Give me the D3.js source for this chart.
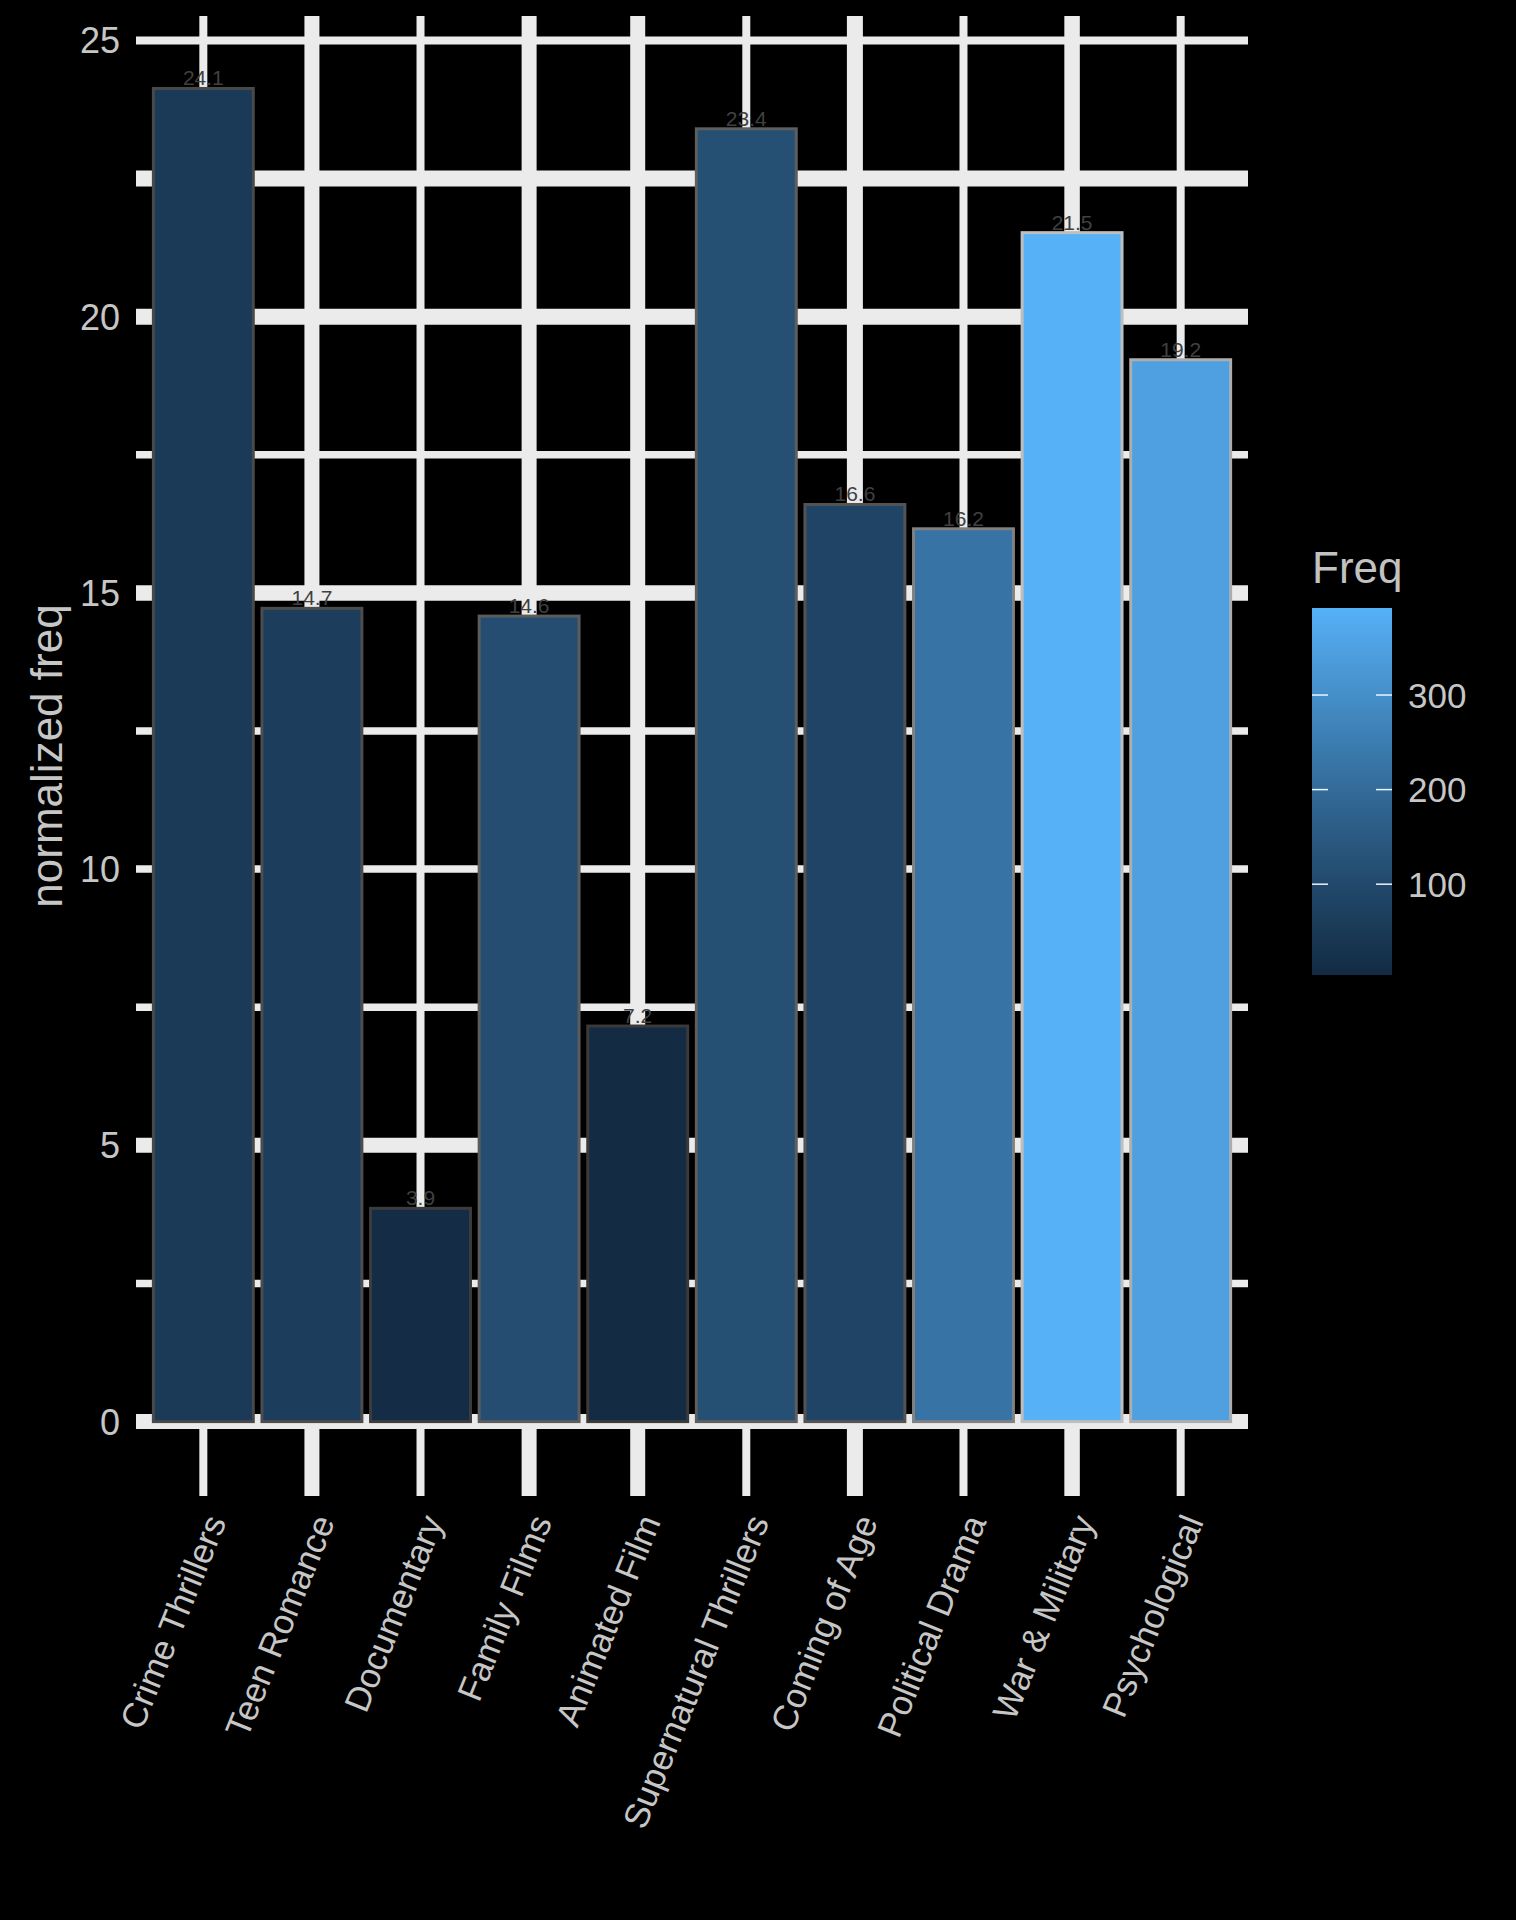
<!DOCTYPE html>
<html>
<head>
<meta charset="utf-8">
<script src="https://cdn.jsdelivr.net/npm/d3@7"></script>
<style>
  html, body { margin: 0; padding: 0; background: #000; }
  svg { display: block; }
  text { font-family: "Liberation Sans", Arial, "DejaVu Sans", sans-serif; }
</style>
</head>
<body>
<svg id="chart" width="1516" height="1920"></svg>
<script>
// ---- data ----
const categories = [
  "Crime Thrillers", "Teen Romance", "Documentary", "Family Films", "Animated Film",
  "Supernatural Thrillers", "Coming of Age", "Political Drama", "War & Military", "Psychological"
];
const normFreq = [24.13, 14.72, 3.86, 14.58, 7.16, 23.40, 16.60, 16.16, 21.52, 19.22];
const freq = [52, 64, 8, 113, 4, 118, 85, 224, 392, 347];
const yMajorTicks = [0, 5, 10, 15, 20, 25];
const yMinorTicks = [2.5, 7.5, 12.5, 17.5, 22.5];
const legendTicks = [100, 200, 300];

// ---- layout / style ----
const W = 1516, H = 1920;
const panel = { left: 136, right: 1248, top: 16, bottom: 1496 };
const gridColor = "#ebebeb";
const textColor = "#c6c6c6";
const hGridWidth = { 0: 15, 2.5: 7.5, 5: 15, 7.5: 7.5, 10: 7.5, 12.5: 7.5, 15: 15.5, 17.5: 7.5, 20: 16, 22.5: 16, 25: 8 };
const vGridWidth = [8, 15, 8, 15, 15, 8, 16, 8, 15.5, 8];

const svg = d3.select("#chart");
svg.append("rect").attr("width", W).attr("height", H).attr("fill", "#000");

const x = d3.scaleBand().domain(categories)
  .range([panel.left, panel.right]).paddingInner(0.08).paddingOuter(0.16);
const y = d3.scaleLinear().domain([0, 25]).range([1421.6, 40.4]);
const color = d3.scaleLinear().domain([d3.min(freq), d3.max(freq)])
  .range(["#132B43", "#56B1F7"]).interpolate(d3.interpolateLab);

// ---- grid ----
const grid = svg.append("g");
const allY = yMajorTicks.concat(yMinorTicks);
grid.selectAll("line.h").data(allY).join("line")
  .attr("x1", panel.left).attr("x2", panel.right)
  .attr("y1", d => y(d)).attr("y2", d => y(d))
  .attr("stroke", gridColor).attr("stroke-width", d => hGridWidth[d] || 8);
grid.selectAll("line.v").data(categories).join("line")
  .attr("x1", d => x(d) + x.bandwidth() / 2).attr("x2", d => x(d) + x.bandwidth() / 2)
  .attr("y1", panel.top).attr("y2", panel.bottom)
  .attr("stroke", gridColor).attr("stroke-width", (d, i) => vGridWidth[i]);

// ---- bars ----
const data = categories.map((c, i) => ({ c, v: normFreq[i], f: freq[i] }));
svg.append("g").selectAll("rect").data(data).join("rect")
  .attr("x", d => x(d.c)).attr("width", x.bandwidth())
  .attr("y", d => y(d.v)).attr("height", d => y(0) - y(d.v))
  .attr("fill", d => color(d.f))
  .attr("stroke", d => { const l = d3.lab(color(d.f)); return d3.lab(Math.min(100, l.l + 8), 0, 0).formatHex(); })
  .attr("stroke-width", 3);

// ---- bar labels ----
svg.append("g").selectAll("text").data(data).join("text")
  .attr("x", d => x(d.c) + x.bandwidth() / 2)
  .attr("y", d => y(d.v) - 3)
  .attr("text-anchor", "middle")
  .attr("font-size", 21)
  .attr("fill", "#404040")
  .text(d => d.v.toFixed(1));

// ---- y axis labels ----
svg.append("g").selectAll("text").data(yMajorTicks).join("text")
  .attr("x", 120).attr("y", d => y(d)).attr("dy", "0.36em")
  .attr("text-anchor", "end").attr("font-size", 36).attr("fill", textColor)
  .text(d => d);

svg.append("text")
  .attr("transform", `translate(62,${(panel.top + panel.bottom) / 2}) rotate(-90)`)
  .attr("text-anchor", "middle").attr("font-size", 44).attr("fill", textColor)
  .text("normalized freq");

// ---- x axis labels ----
svg.append("g").selectAll("text").data(categories).join("text")
  .attr("transform", d => `translate(${x(d) + x.bandwidth() / 2},1512) rotate(-68)`)
  .attr("dy", "0.72em")
  .attr("text-anchor", "end").attr("font-size", 35).attr("fill", textColor)
  .text(d => d);

// ---- legend ----
const lg = { x: 1312, w: 80, top: 608, bottom: 975 };
const defs = svg.append("defs");
const grad = defs.append("linearGradient").attr("id", "freqGrad")
  .attr("x1", 0).attr("x2", 0).attr("y1", 1).attr("y2", 0);
d3.range(0, 1.0001, 0.05).forEach(t => {
  grad.append("stop").attr("offset", t)
    .attr("stop-color", color(color.domain()[0] + t * (color.domain()[1] - color.domain()[0])));
});
svg.append("text").attr("x", lg.x).attr("y", 583)
  .attr("font-size", 44).attr("fill", "#c2c2c2").text("Freq");
svg.append("rect").attr("x", lg.x).attr("y", lg.top)
  .attr("width", lg.w).attr("height", lg.bottom - lg.top)
  .attr("fill", "url(#freqGrad)");
const ly = d3.scaleLinear().domain(color.domain()).range([lg.bottom, lg.top]);
const lt = svg.append("g");
legendTicks.forEach(v => {
  lt.append("line").attr("x1", lg.x).attr("x2", lg.x + lg.w / 5)
    .attr("y1", ly(v)).attr("y2", ly(v)).attr("stroke", "#e8f4ff").attr("stroke-width", 1.5);
  lt.append("line").attr("x1", lg.x + lg.w - lg.w / 5).attr("x2", lg.x + lg.w)
    .attr("y1", ly(v)).attr("y2", ly(v)).attr("stroke", "#e8f4ff").attr("stroke-width", 1.5);
  lt.append("text").attr("x", 1408).attr("y", ly(v)).attr("dy", "0.36em")
    .attr("font-size", 35).attr("fill", textColor).text(v);
});
</script>
</body>
</html>
